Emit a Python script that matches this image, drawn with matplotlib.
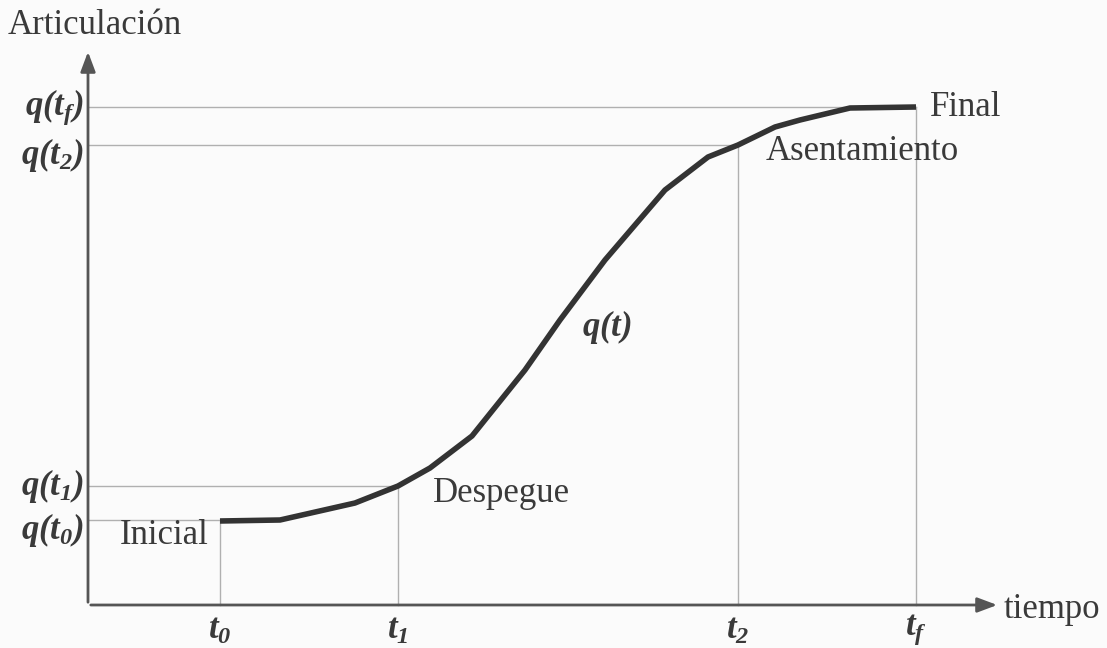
import matplotlib.pyplot as plt

plt.rcParams['font.family'] = ['Liberation Serif', 'DejaVu Serif']
plt.rcParams['mathtext.fontset'] = 'custom'
plt.rcParams['mathtext.rm'] = 'Liberation Serif:italic:bold'
plt.rcParams['mathtext.it'] = 'Liberation Serif:italic:bold'
plt.rcParams['mathtext.bf'] = 'Liberation Serif:italic:bold'

# key instants and joint values (arbitrary units, origin at axes corner)
t_names = [r"$t_0$", r"$t_1$", r"$t_2$", r"$t_f$"]
t_vals = [132, 310, 650, 828]
q_names = [r"$q(t_0)$", r"$q(t_1)$", r"$q(t_2)$", r"$q(t_f)$"]
q_vals = [85, 119, 460, 498]

# trajectory q(t)
curve_t = [132, 192, 267, 310, 342, 384, 437, 472, 517, 577, 620, 650, 687, 712, 762, 828]
curve_q = [84, 85, 102, 119, 137, 169, 235, 285, 345, 415, 448, 460, 478, 485, 497, 498]

fig = plt.figure(figsize=(11.07, 6.48), dpi=100)
fig.patch.set_facecolor('#fbfbfb')
ax = fig.add_axes([0, 0, 1, 1])
ax.set_xlim(-88, 1019)
ax.set_ylim(-43, 605)
ax.axis('off')

grid = '#b0b0b0'
for t, q in zip(t_vals, q_vals):
    ax.plot([0, t], [q, q], color=grid, lw=1)
    ax.plot([t, t], [0, q], color=grid, lw=1)

ax.plot(curve_t, curve_q, color='#333333', lw=4, solid_capstyle='butt')

# axes with arrows
axc = '#555555'
ax.annotate('', xy=(912, 0), xytext=(0, 0),
            arrowprops=dict(arrowstyle='-|>,head_length=1.2,head_width=0.45', color=axc, lw=2))
ax.annotate('', xy=(0, 556), xytext=(0, 0),
            arrowprops=dict(arrowstyle='-|>,head_length=1.2,head_width=0.45', color=axc, lw=2))

fs = 25
tc = '#3a3a3a'
ax.text(-80, 580, "Articulación", fontsize=fs, color=tc, va='center', ha='left')
ax.text(916, -5, "tiempo", fontsize=fs, color=tc, va='center', ha='left')

for name, q in zip(q_names, q_vals):
    dy = -10 if q in (85, 460) else 0
    ax.text(-4, q + dy, name, fontsize=fs, color=tc, va='center', ha='right')
for name, t in zip(t_names, t_vals):
    ax.text(t, -25, name, fontsize=fs, color=tc, va='center', ha='center')

ax.text(32, 70, "Inicial", fontsize=fs, color=tc, va='center', ha='left')
ax.text(345, 112, "Despegue", fontsize=fs, color=tc, va='center', ha='left')
ax.text(494, 278, r"$q(t)$", fontsize=fs, color=tc, va='center', ha='left')
ax.text(678, 454, "Asentamiento", fontsize=fs, color=tc, va='center', ha='left')
ax.text(842, 497, "Final", fontsize=fs, color=tc, va='center', ha='left')

fig.savefig("out.png", dpi=100, facecolor=fig.get_facecolor())
